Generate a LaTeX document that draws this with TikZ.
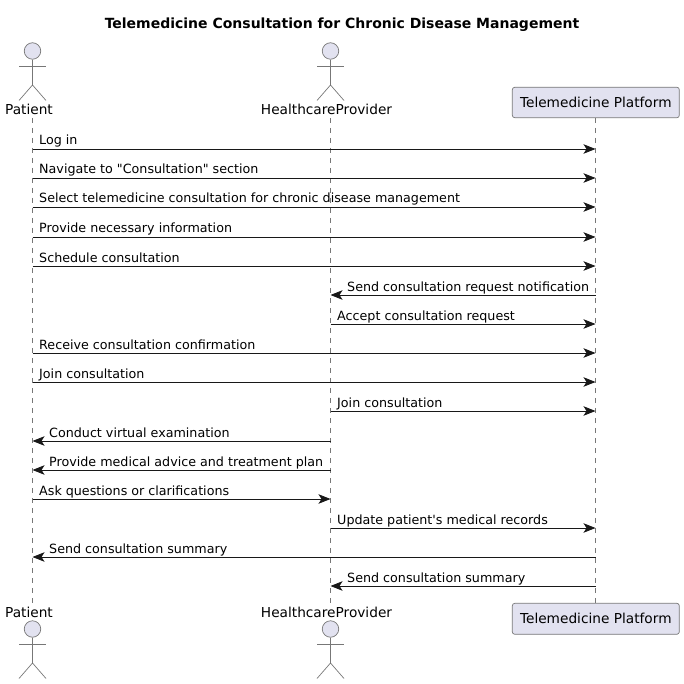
\documentclass[tikz,border=0pt]{standalone}
\usepackage{fontspec}
\setmainfont{DejaVu Sans}[Ligatures=TeXOff]
\usetikzlibrary{arrows.meta}
\definecolor{partfill}{HTML}{E2E2F0}
\definecolor{partline}{HTML}{777777}
\definecolor{msgink}{HTML}{181818}
\newcommand{\xpat}{32.5}
\newcommand{\xdoc}{330.5}
\newcommand{\xplat}{595.5}
\newcommand{\stickman}[3]{% name, x, y of the head
  \node[headball] (#1) at (#2,#3) {};
  \coordinate (#1hip) at (#2,#3+34);
  \coordinate (#1armL) at (#2-13.5,#3+15);
  \coordinate (#1armR) at (#2+13.5,#3+15);
  \coordinate (#1footL) at (#2-13.5,#3+49.5);
  \coordinate (#1footR) at (#2+13.5,#3+49.5);
  \draw[stick] (#1.south) -- (#1hip);
  \draw[stick] (#1armL) -- (#1armR);
  \draw[stick] (#1footL) -- (#1hip) -- (#1footR);
}
\tikzset{
  headball/.style={circle, draw=partline, fill=partfill, line width=0.7pt, minimum size=16.5pt, inner sep=0pt},
  stick/.style={draw=partline, line width=0.7pt},
  actorname/.style={font=\fontsize{13.7}{16}\selectfont, text=black, inner sep=0pt, anchor=base},
  platbox/.style={draw=partline, fill=partfill, line width=0.7pt, rounded corners=2.5pt, minimum width=167pt, font=\fontsize{13.7}{16}\selectfont, text=black, inner sep=0pt},
  lifeline/.style={draw=partline, line width=0.6pt, dash pattern=on 5pt off 5pt},
  msgline/.style={draw=msgink, line width=0.8pt, -{Stealth[length=12pt,width=9.5pt,inset=3pt]}},
  msgtext/.style={font=\fontsize{12.7}{15}\selectfont, text=black, inner sep=0pt, anchor=base west}
}
\begin{document}
\begin{tikzpicture}[x=1pt,y=-1pt]
  \useasboundingbox (0,0) rectangle (684,684);
  \node[font=\bfseries\fontsize{14}{16}\selectfont, inner sep=0pt, anchor=base] (title) at (342,28.5) {Telemedicine Consultation for Chronic Disease Management};

  % lifelines first, everything else on top
  \coordinate (patTop) at (\xpat,118);
  \coordinate (patBot) at (\xpat,604);
  \coordinate (docTop) at (\xdoc,118);
  \coordinate (docBot) at (\xdoc,604);
  \coordinate (platTop) at (\xplat,118);
  \coordinate (platBot) at (\xplat,604);
  \draw[lifeline] (patTop) -- (patBot);
  \draw[lifeline] (docTop) -- (docBot);
  \draw[lifeline] (platTop) -- (platBot);

  % top row
  \stickman{patHead}{\xpat}{51}
  \stickman{docHead}{\xdoc}{51}
  \node[actorname] (patName) at (\xpat-3.5,115) {Patient};
  \node[actorname] (docName) at (\xdoc-4,115) {HealthcareProvider};
  \node[platbox, minimum height=30.5pt] (platHead) at (595.8,102.5) {Telemedicine Platform};

  % bottom row
  \node[actorname] (patFoot) at (\xpat-3.5,617) {Patient};
  \node[actorname] (docFoot) at (\xdoc-4,617) {HealthcareProvider};
  \stickman{patLow}{\xpat}{629}
  \stickman{docLow}{\xdoc}{629}
  \node[platbox, minimum height=31pt] (platFoot) at (595.8,618.8) {Telemedicine Platform};

  % messages running to the right
  \foreach \n/\y/\from/\to/\txt in {
    a/149/\xpat/\xplat/{Log in},
    b/178/\xpat/\xplat/{Navigate to "Consultation" section},
    c/207/\xpat/\xplat/{Select telemedicine consultation for chronic disease management},
    d/237/\xpat/\xplat/{Provide necessary information},
    e/266/\xpat/\xplat/{Schedule consultation},
    g/324/\xdoc/\xplat/{Accept consultation request},
    h/353/\xpat/\xplat/{Receive consultation confirmation},
    i/382/\xpat/\xplat/{Join consultation},
    j/411/\xdoc/\xplat/{Join consultation},
    m/499/\xpat/\xdoc/{Ask questions or clarifications},
    n/528/\xdoc/\xplat/{Update patient's medical records}} {
    \coordinate (src\n) at (\from,\y);
    \coordinate (dst\n) at (\to,\y);
    \draw[msgline] (src\n) -- (dst\n);
    \node[msgtext] (lbl\n) at (\from+6.5,\y-4) {\txt};
  }

  % messages running to the left
  \foreach \n/\y/\from/\to/\txt in {
    f/295/\xplat/\xdoc/{Send consultation request notification},
    k/441/\xdoc/\xpat/{Conduct virtual examination},
    l/470/\xdoc/\xpat/{Provide medical advice and treatment plan},
    o/557/\xplat/\xpat/{Send consultation summary},
    p/586/\xplat/\xdoc/{Send consultation summary}} {
    \coordinate (src\n) at (\from,\y);
    \coordinate (dst\n) at (\to,\y);
    \draw[msgline] (src\n) -- (dst\n);
    \node[msgtext] (lbl\n) at (\to+16.5,\y-4) {\txt};
  }
\end{tikzpicture}
\end{document}
